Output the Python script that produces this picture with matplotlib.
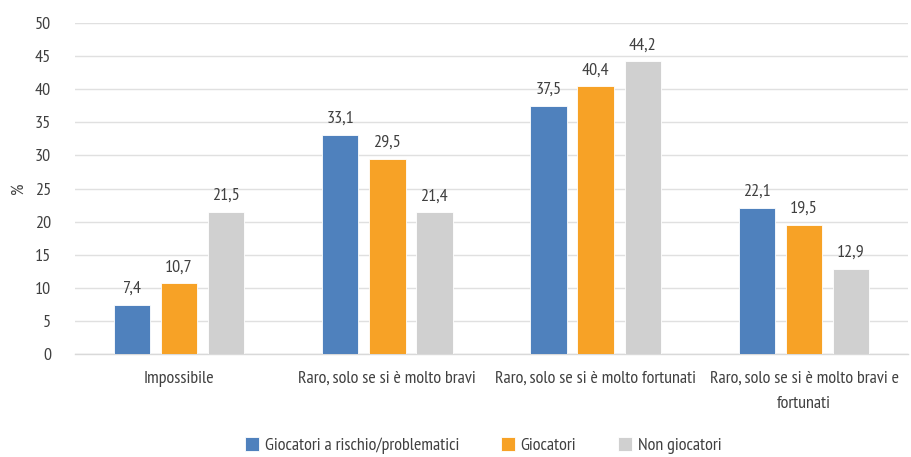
import numpy as np
import matplotlib.pyplot as plt

# font condensato simile al Myriad Condensed
plt.rcParams['font.family'] = ['PT Sans Narrow', 'DejaVu Sans']

categorie = ['Impossibile', 'Raro, solo se si è molto bravi',
             'Raro, solo se si è molto fortunati',
             'Raro, solo se si è molto bravi e\nfortunati']
serie = ['Giocatori a rischio/problematici', 'Giocatori', 'Non giocatori']
rischio = [7.4, 33.1, 37.5, 22.1]
giocatori = [10.7, 29.5, 40.4, 19.5]
non_giocatori = [21.5, 21.4, 44.2, 12.9]
colori = ['#4F81BD', '#F7A226', '#D0D0D0']

testo = '#404040'
fs = 13
fig = plt.figure(figsize=(9.11, 4.57), dpi=100)
ax = fig.add_axes([0.082, 0.225, 0.915, 0.725])

x = np.arange(len(categorie))
w = 0.175
step = 0.226
for i, (vals, nome) in enumerate(zip([rischio, giocatori, non_giocatori], serie)):
    pos = x + (i - 1) * step
    ax.bar(pos, vals, w, color=colori[i], label=nome, zorder=3,
           edgecolor='white', linewidth=0.6)
    for p, v in zip(pos, vals):
        ax.text(p, v + 1.2, f'{v:.1f}'.replace('.', ','), ha='center', va='bottom',
                fontsize=fs, color=testo)

ax.set_ylim(0, 50)
ax.set_yticks(np.arange(0, 51, 5))
ax.set_xlim(-0.5, 3.5)
ax.set_xticks(x)
ax.set_xticklabels(categorie, fontsize=fs, color=testo, linespacing=1.75)
ax.tick_params(axis='y', labelsize=fs, labelcolor=testo, length=0, pad=17)
ax.tick_params(axis='x', length=0, pad=12)
ax.set_ylabel('%', fontsize=fs, color=testo, labelpad=6)
ax.grid(axis='y', color='#E0E0E0', linewidth=1, zorder=0)
for s in ['top', 'right', 'left']:
    ax.spines[s].set_visible(False)
ax.spines['bottom'].set_color('#D9D9D9')
ax.spines['bottom'].set_linewidth(1)

ax.legend(loc='lower center', bbox_to_anchor=(0.49, -0.35), ncol=3, frameon=False,
          fontsize=fs, handlelength=0.8, handleheight=0.8, handletextpad=0.3,
          columnspacing=2.3, labelcolor=testo)

fig.savefig('out.png', dpi=100)
